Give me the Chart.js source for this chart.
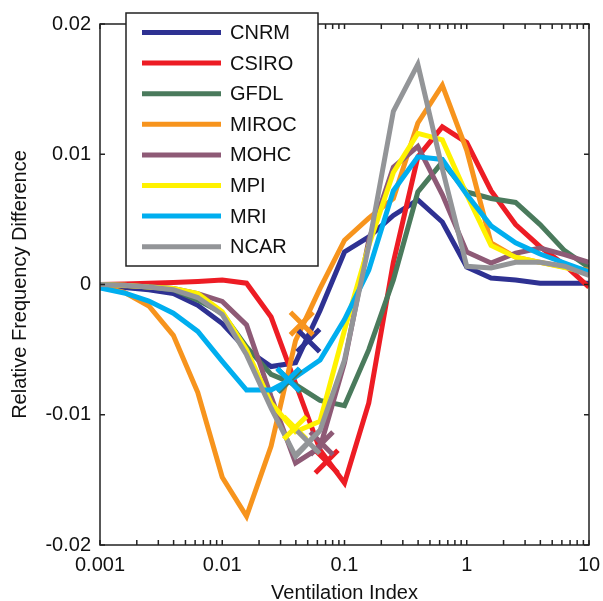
<!DOCTYPE html>
<html>
<head>
<meta charset="utf-8">
<script src="https://cdn.jsdelivr.net/npm/chart.js@4.4.1/dist/chart.umd.min.js"></script>
<style>
  body { margin: 0; background: #fff; }
  canvas { display: block; }
</style>
</head>
<body>
<canvas id="ventChart" width="603" height="601"></canvas>
<script>
const ventIndex = [0.001, 0.00158, 0.00251, 0.00398, 0.00631, 0.01, 0.0158, 0.0251, 0.0398, 0.0631,
  0.1, 0.158, 0.251, 0.398, 0.631, 1, 1.58, 2.51, 3.98, 6.31, 10];

const models = ['CNRM', 'CSIRO', 'GFDL', 'MIROC', 'MOHC', 'MPI', 'MRI', 'NCAR'];

const cnrm  = [-0.0001, -0.00023, -0.0004, -0.0007, -0.0016, -0.003, -0.005, -0.0063, -0.006, -0.002,
  0.0025, 0.00365, 0.0053, 0.0065, 0.0048, 0.00134, 0.0005, 0.00035, 0.0001, 0.0001, 0.0001];
const csiro = [0, 0.00004, 0.0001, 0.00015, 0.00023, 0.00035, 0.0001, -0.0025, -0.0076, -0.0127,
  -0.01524, -0.0091, 0.0017, 0.0098, 0.0121, 0.0109, 0.0072, 0.0046, 0.0029, 0.0015, -0.0002];
const gfdl  = [0, -0.0001, -0.0002, -0.0004, -0.0012, -0.0022, -0.0048, -0.0069, -0.0077, -0.0089,
  -0.0093, -0.005, 0.00035, 0.0071, 0.0094, 0.0071, 0.0066, 0.0063, 0.0046, 0.0026, 0.0013];
const miroc = [-0.0001, -0.0006, -0.00165, -0.0039, -0.0083, -0.0148, -0.0178, -0.0124, -0.0043, -0.0003,
  0.0034, 0.0051, 0.0066, 0.0124, 0.0153, 0.0103, 0.0032, 0.0021, 0.0017, 0.00134, 0.0011];
const mohc  = [0, -0.0001, -0.00015, -0.0003, -0.0007, -0.0013, -0.0031, -0.0086, -0.0137, -0.0125,
  -0.006, 0.0034, 0.009, 0.0106, 0.0069, 0.0025, 0.00165, 0.0024, 0.0028, 0.0023, 0.0017];
const mpi   = [0, -0.00005, -0.0002, -0.0003, -0.0007, -0.0021, -0.005, -0.0091, -0.0113, -0.0105,
  -0.0035, 0.003, 0.0086, 0.0116, 0.0111, 0.0069, 0.003, 0.0021, 0.0017, 0.0013, 0.0009];
const mri   = [-0.00027, -0.00065, -0.00127, -0.0022, -0.0036, -0.0059, -0.0081, -0.0081, -0.0071, -0.0058,
  -0.0027, 0.0011, 0.0072, 0.0098, 0.0096, 0.0069, 0.0045, 0.0032, 0.00234, 0.00165, 0.00096];
const ncar  = [0, -0.00005, -0.0002, -0.0004, -0.001, -0.0023, -0.0054, -0.0095, -0.0132, -0.0112,
  -0.0058, 0.003, 0.0133, 0.0169, 0.0089, 0.0014, 0.00127, 0.0017, 0.0017, 0.0014, 0.0007];

// cross markers, one per model (same order as models)
const markerX = [0.0506, 0.0714, 0.0355, 0.0447, 0.065, 0.0394, 0.0347, 0.0506];
const markerY = [-0.0043, -0.0136, -0.0074, -0.003, -0.0122, -0.011, -0.0073, -0.0121];

const xTicks = [0.001, 0.01, 0.1, 1, 10];
const yTicks = [-0.02, -0.01, 0, 0.01, 0.02];

const seriesValues = [cnrm, csiro, gfdl, miroc, mohc, mpi, mri, ncar];
const colors = ['#2e3192', '#ed1c24', '#4a7a5c', '#f7941d', '#8e5a76', '#fff200', '#00aeef', '#939598'];

const font = { family: '"Liberation Sans", Arial, Helvetica, sans-serif', size: 20 };

const lineSets = models.map((name, i) => ({
  label: name,
  data: ventIndex.map((v, k) => ({ x: v, y: seriesValues[i][k] })),
  borderColor: colors[i],
  backgroundColor: colors[i],
  borderWidth: 5,
  pointRadius: 0,
  tension: 0,
  fill: false,
  order: 10 - i   // later models on top, like the original
}));

const markerSet = {
  label: 'markers',
  data: markerX.map((x, i) => ({ x: x, y: markerY[i] })),
  showLine: false,
  pointStyle: 'crossRot',
  pointRadius: 16,
  pointBorderWidth: 5,
  pointBorderColor: colors,
  pointBackgroundColor: colors,
  order: 0
};

// inward ticks on all four sides + box
const framePlugin = {
  id: 'frame',
  afterDatasetsDraw(chart) {
    const { ctx, chartArea: a, scales } = chart;
    const len = 5;
    ctx.save();
    ctx.strokeStyle = '#222';
    ctx.lineWidth = 1.5;
    ctx.strokeRect(a.left, a.top, a.right - a.left, a.bottom - a.top);
    ctx.beginPath();
    for (let d = 0.001; d < 10; d *= 10) {
      for (let m = 1; m <= 10; m++) {
        const px = scales.x.getPixelForValue(d * m);
        ctx.moveTo(px, a.bottom); ctx.lineTo(px, a.bottom - len);
        ctx.moveTo(px, a.top); ctx.lineTo(px, a.top + len);
      }
    }
    yTicks.forEach(v => {
      const py = scales.y.getPixelForValue(v);
      ctx.moveTo(a.left, py); ctx.lineTo(a.left + len, py);
      ctx.moveTo(a.right, py); ctx.lineTo(a.right - len, py);
    });
    ctx.stroke();
    ctx.restore();
  }
};

// legend box drawn inside the plot, over the top axis
const legendPlugin = {
  id: 'boxLegend',
  afterDraw(chart) {
    const ctx = chart.ctx;
    const box = { x: 126, y: 13, w: 192, h: 253 };
    ctx.save();
    ctx.fillStyle = '#fff';
    ctx.fillRect(box.x, box.y, box.w, box.h);
    ctx.strokeStyle = '#222';
    ctx.lineWidth = 1.5;
    ctx.strokeRect(box.x, box.y, box.w, box.h);
    ctx.font = font.size + 'px ' + font.family;
    ctx.textBaseline = 'middle';
    ctx.fillStyle = '#111';
    models.forEach((name, i) => {
      const y = 32.5 + i * 30.6;
      ctx.strokeStyle = colors[i];
      ctx.lineWidth = 5;
      ctx.beginPath();
      ctx.moveTo(142, y); ctx.lineTo(221, y);
      ctx.stroke();
      ctx.fillText(name, 230, y + 1);
    });
    ctx.restore();
  }
};

new Chart(document.getElementById('ventChart'), {
  type: 'line',
  data: { datasets: lineSets.concat([markerSet]) },
  options: {
    responsive: false,
    animation: false,
    layout: { autoPadding: false, padding: { top: 24, right: 14, left: 0, bottom: 0 } },
    plugins: { legend: { display: false }, tooltip: { enabled: false } },
    scales: {
      x: {
        type: 'logarithmic',
        min: 0.001,
        max: 10,
        grid: { display: false, drawTicks: false },
        border: { display: false },
        afterBuildTicks: s => { s.ticks = xTicks.map(v => ({ value: v })); },
        afterFit: s => { s.height = 56; s.paddingLeft = 0; s.paddingRight = 0; },
        ticks: { color: '#111', font: font, padding: 8, maxRotation: 0, autoSkip: false,
          callback: v => String(v) },
        title: { display: true, text: 'Ventilation Index', color: '#111',
          font: Object.assign({}, font, { lineHeight: 0.8 }), padding: 0 }
      },
      y: {
        min: -0.02,
        max: 0.02,
        grid: { display: false, drawTicks: false },
        border: { display: false },
        afterBuildTicks: s => { s.ticks = yTicks.map(v => ({ value: v })); },
        afterFit: s => { s.width = 100; s.paddingTop = 0; s.paddingBottom = 0; },
        ticks: { color: '#111', font: font, padding: 9,
          callback: v => (Math.abs(v) < 1e-9 ? '0' : v.toFixed(2)) },
        title: { display: true, text: 'Relative Frequency Difference', color: '#111', font: font, padding: 8 }
      }
    }
  },
  plugins: [framePlugin, legendPlugin]
});
</script>
</body>
</html>
